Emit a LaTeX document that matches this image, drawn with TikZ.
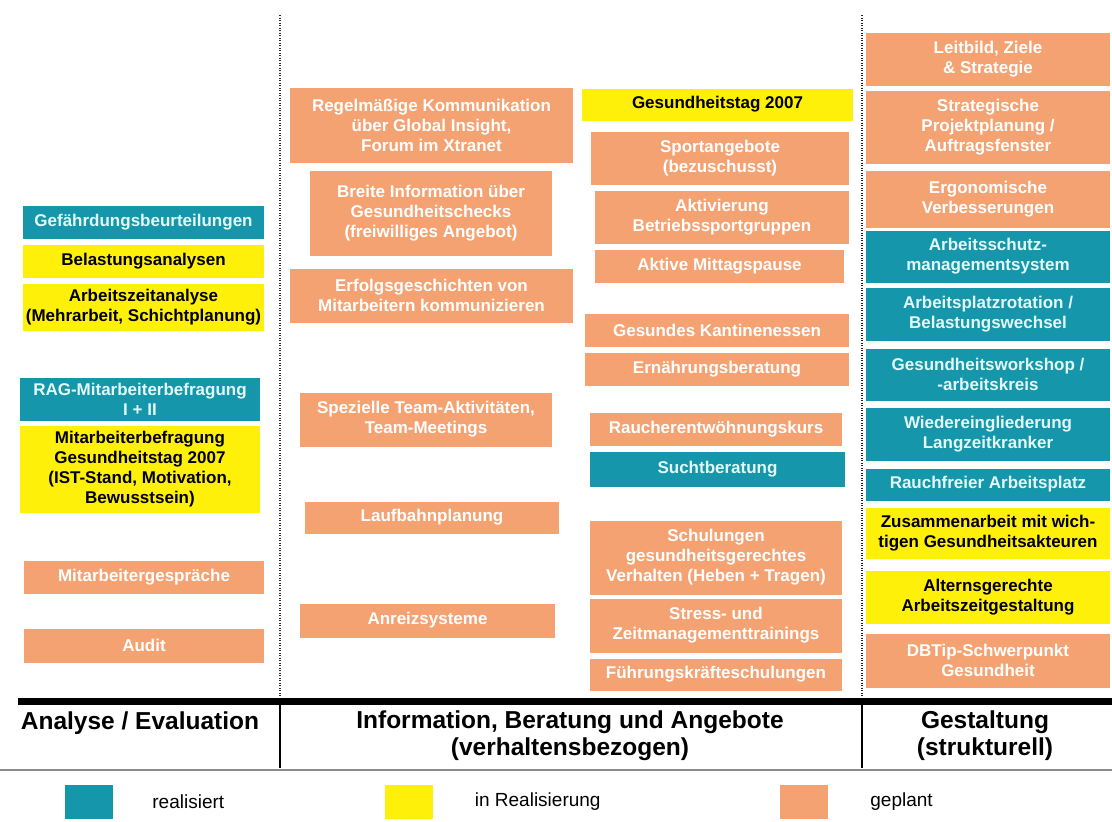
\documentclass[tikz,border=0pt]{standalone}
\usepackage{fontspec}
\setmainfont{Liberation Sans}
\usetikzlibrary{positioning}

\definecolor{tealbox}{RGB}{22,150,170}
\definecolor{yellowbox}{RGB}{255,240,10}
\definecolor{salmonbox}{RGB}{245,162,115}
\definecolor{tealtext}{RGB}{225,250,250}

\begin{document}
\begin{tikzpicture}[
        x=1pt, y=-1pt,
        status/.style={rectangle, inner sep=0pt, align=center,
            font=\bfseries\fontsize{17}{20}\selectfont},
        real/.style={status, fill=tealbox, text=tealtext},
        inreal/.style={status, fill=yellowbox, text=black},
        plan/.style={status, fill=salmonbox, text=white},
        header/.style={align=center, font=\bfseries\fontsize{24.5}{27}\selectfont},
        legendbox/.style={rectangle, minimum width=48, minimum height=34, inner sep=0pt},
        legendtext/.style={anchor=west, inner sep=0pt, font=\fontsize{19}{22}\selectfont},
        sepline/.style={line width=1.6pt, black!85, dash pattern=on 1.4pt off 1.1pt},
    ]
    \useasboundingbox (0,0) rectangle (1112,822);

    % Analyse / Evaluation
    \node[real, minimum width=241, minimum height=33] (gefaehrdung) at (143.5,222) {Gefährdungsbeurteilungen};
    \node[inreal, minimum width=241, minimum height=33] (belastung) at (143.5,261) {Belastungsanalysen};
    \node[inreal, minimum width=241, minimum height=47] (azanalyse) at (143.5,307) {Arbeitszeitanalyse\\(Mehrarbeit, Schichtplanung)};
    \node[real, minimum width=240, minimum height=43] (ragbefr) at (140,399) {RAG-Mitarbeiterbefragung\\I + II};
    \node[inreal, minimum width=240, minimum height=87] (mabefr) at (140,469) {Mitarbeiterbefragung\\Gesundheitstag 2007\\(IST-Stand, Motivation,\\Bewusstsein)};
    \node[plan, minimum width=240, minimum height=33] (magespr) at (144,577) {Mitarbeitergespräche};
    \node[plan, minimum width=240, minimum height=34] (audit) at (144,645.5) {Audit};

    % Information, Beratung und Angebote
    \node[plan, minimum width=283, minimum height=75] (kommunikation) at (431.5,125) {Regelmäßige Kommunikation\\über Global Insight,\\Forum im Xtranet};
    \node[plan, minimum width=242, minimum height=85] (gcheck) at (431,213) {Breite Information über\\Gesundheitschecks\\(freiwilliges Angebot)};
    \node[plan, minimum width=283, minimum height=54] (erfolg) at (431.5,295.5) {Erfolgsgeschichten von\\Mitarbeitern kommunizieren};
    \node[plan, minimum width=252, minimum height=54] (team) at (426,419.5) {Spezielle Team-Aktivitäten,\\Team-Meetings};
    \node[plan, minimum width=254, minimum height=32] (laufbahn) at (432,517.5) {Laufbahnplanung};
    \node[plan, minimum width=255, minimum height=34] (anreiz) at (427.5,620.5) {Anreizsysteme};

    \node[inreal, minimum width=271, minimum height=32] (gtag) at (717.5,104.5) {Gesundheitstag 2007};
    \node[plan, minimum width=258, minimum height=53] (sport) at (720,158) {Sportangebote\\(bezuschusst)};
    \node[plan, minimum width=254, minimum height=53] (aktivierung) at (722,217) {Aktivierung\\Betriebssportgruppen};
    \node[plan, minimum width=249, minimum height=33] (mittag) at (719.5,266) {Aktive Mittagspause};
    \node[plan, minimum width=264, minimum height=33] (kantine) at (717,330) {Gesundes Kantinenessen};
    \node[plan, minimum width=264, minimum height=33] (ernaehrung) at (717,369) {Ernährungsberatung};
    \node[plan, minimum width=252, minimum height=33] (raucher) at (716,429) {Raucherentwöhnungskurs};
    \node[real, minimum width=255, minimum height=35] (sucht) at (717.5,469) {Suchtberatung};
    \node[plan, minimum width=252, minimum height=74] (schulung) at (716,557.5) {Schulungen\\gesundheitsgerechtes\\Verhalten (Heben + Tragen)};
    \node[plan, minimum width=252, minimum height=54] (stress) at (716,625.5) {Stress- und\\Zeitmanagementtrainings};
    \node[plan, minimum width=252, minimum height=32] (fuehrung) at (716,674.5) {Führungskräfteschulungen};

    % Gestaltung
    \node[plan, minimum width=244, minimum height=53] (leitbild) at (988,59) {Leitbild, Ziele\\\& Strategie};
    \node[plan, minimum width=244, minimum height=73] (strategisch) at (988,127) {Strategische\\Projektplanung /\\Auftragsfenster};
    \node[plan, minimum width=244, minimum height=57] (ergonomie) at (988,199) {Ergonomische\\Verbesserungen};
    \node[real, minimum width=244, minimum height=52] (asms) at (988,256.5) {Arbeitsschutz-\\managementsystem};
    \node[real, minimum width=244, minimum height=53] (rotation) at (988,314) {Arbeitsplatzrotation /\\Belastungswechsel};
    \node[real, minimum width=244, minimum height=52] (workshop) at (988,374.5) {Gesundheitsworkshop /\\-arbeitskreis};
    \node[real, minimum width=244, minimum height=53] (wiedereingl) at (988,434) {Wiedereingliederung\\Langzeitkranker};
    \node[real, minimum width=244, minimum height=32] (rauchfrei) at (988,484.5) {Rauchfreier Arbeitsplatz};
    \node[inreal, minimum width=244, minimum height=51] (zusammen) at (988,533) {Zusammenarbeit mit wich-\\tigen Gesundheitsakteuren};
    \node[inreal, minimum width=244, minimum height=53] (alterns) at (988,597) {Alternsgerechte\\Arbeitszeitgestaltung};
    \node[plan, minimum width=244, minimum height=54] (dbtip) at (988,660.5) {DBTip-Schwerpunkt\\Gesundheit};

    % column borders
    \coordinate (sepA-top) at (280,15);
    \coordinate (sepA-base) at (280,698);
    \coordinate (sepA-end) at (280,768);
    \coordinate (sepB-top) at (862,15);
    \coordinate (sepB-base) at (862,698);
    \coordinate (sepB-end) at (862,768);
    \draw[sepline] (sepA-top) -- (sepA-base);
    \draw[sepline] (sepB-top) -- (sepB-base);
    \draw[line width=1.5pt] (sepA-base) -- (sepA-end);
    \draw[line width=1.5pt] (sepB-base) -- (sepB-end);

    \coordinate (base-left) at (18,701.5);
    \coordinate (base-right) at (1112,701.5);
    \draw[line width=6.5pt] (base-left) -- (base-right);
    \coordinate (legend-left) at (0,770);
    \coordinate (legend-right) at (1112,770);
    \draw[line width=2pt, black!45] (legend-left) -- (legend-right);

    % column headers
    \node[header] (analyse) at (140,723) {Analyse / Evaluation};
    \node[header] (information) at (570,736) {Information, Beratung und Angebote\\(verhaltensbezogen)};
    \node[header] (gestaltung) at (985,736) {Gestaltung\\(strukturell)};

    % legend
    \node[legendbox, fill=tealbox] (key-real) at (89,802) {};
    \node[legendtext, right=39pt of key-real] (lbl-real) {realisiert};
    \node[legendbox, fill=yellowbox] (key-inreal) at (408.5,802) {};
    \node[legendtext, right=42pt of key-inreal] (lbl-inreal) {in Realisierung};
    \node[legendbox, fill=salmonbox] (key-plan) at (804,802) {};
    \node[legendtext, right=42pt of key-plan] (lbl-plan) {geplant};
\end{tikzpicture}
\end{document}
